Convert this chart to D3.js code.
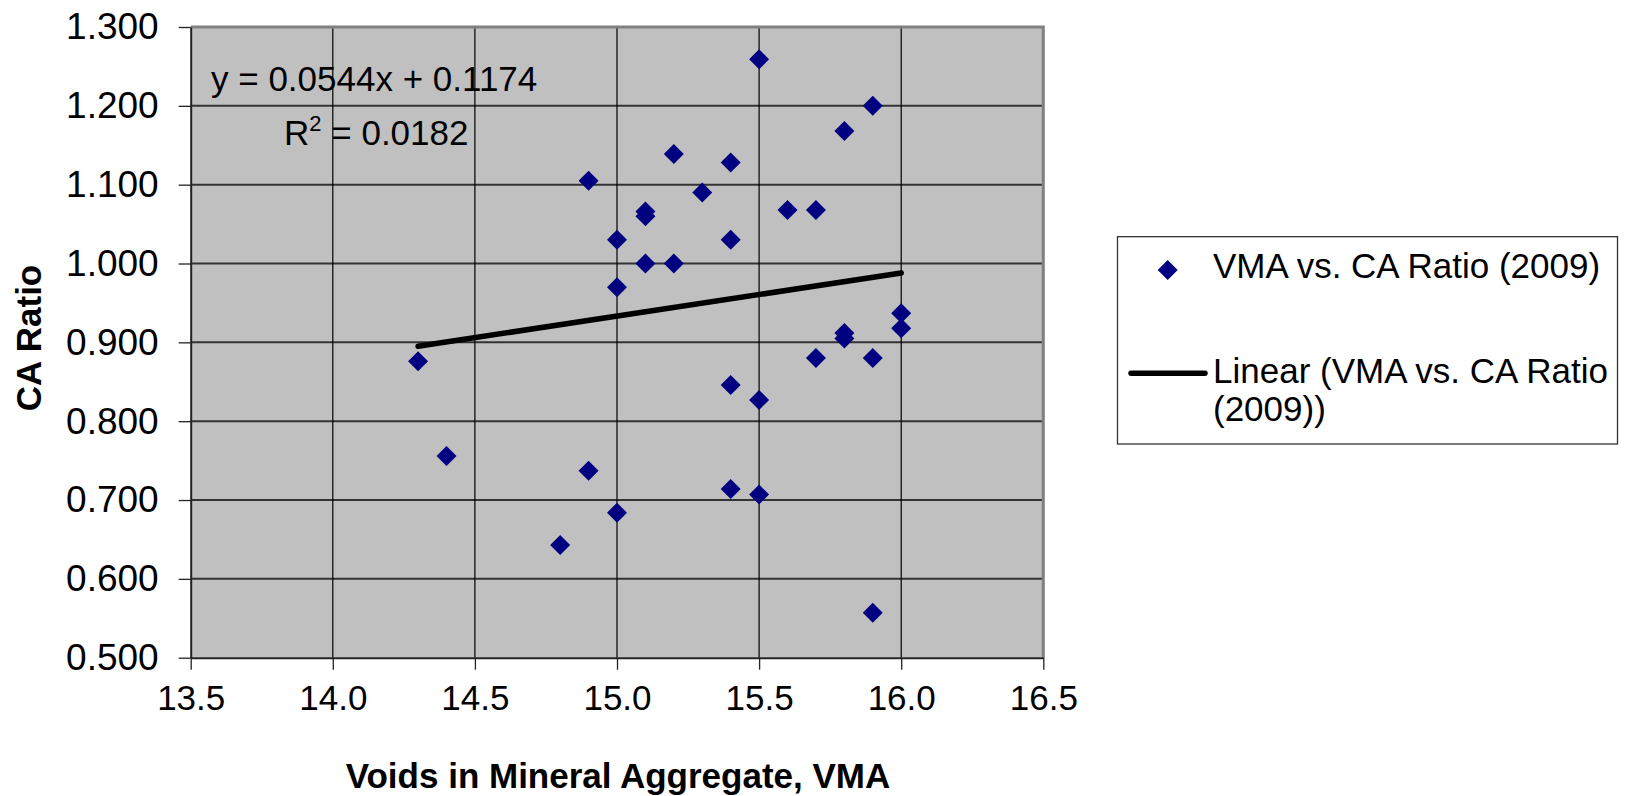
<!DOCTYPE html>
<html>
<head>
<meta charset="utf-8">
<script src="https://cdn.jsdelivr.net/npm/d3@7"></script>
<style>
  body { margin: 0; background: #fff; }
  text { font-family: "Liberation Sans", Arial, sans-serif; fill: #000; }
  .ticklabel { font-size: 35px; }
  .ylabel { font-size: 37px; }
  .eqtext { font-size: 35px; }
  .title { font-size: 35px; font-weight: bold; }
  .legendtext { font-size: 35px; }
</style>
</head>
<body>
<div id="chart"></div>
<script>
// VMA (x) and CA ratio (y) for each sample
var vma = [15.5, 15.9, 15.8, 15.2, 15.4, 15.3, 15.1, 15.1, 15.6, 15.7,
           15.0, 15.4, 15.1, 15.2, 15.0, 16.0, 16.0, 15.8, 15.8, 15.7,
           15.9, 15.4, 15.5, 14.9, 14.3, 14.4, 14.9, 15.0, 14.8, 15.4,
           15.5, 15.9];
var caRatio = [1.259, 1.200, 1.168, 1.139, 1.128, 1.090, 1.066, 1.060, 1.068, 1.068,
               1.030, 1.030, 1.000, 1.000, 0.970, 0.937, 0.918, 0.912, 0.905, 0.880,
               0.880, 0.846, 0.827, 1.105, 0.876, 0.756, 0.737, 0.684, 0.643, 0.714,
               0.707, 0.557];

// trendline end points
var trendX = [14.3, 16.0];
var trendY = [0.895, 0.988];

var xTicks = [13.5, 14.0, 14.5, 15.0, 15.5, 16.0, 16.5];
var yTicks = [0.5, 0.6, 0.7, 0.8, 0.9, 1.0, 1.1, 1.2, 1.3];

var equationText = "y = 0.0544x + 0.1174";
var r2Value = "0.0182";
var seriesName = "VMA vs. CA Ratio (2009)";
var trendName = ["Linear (VMA vs. CA Ratio", "(2009))"];

var width = 1625, height = 796;
var plot = {left: 190.7, top: 27, right: 1043.3, bottom: 657.7};

var svg = d3.select("#chart").append("svg")
    .attr("width", width)
    .attr("height", height);

var x = d3.scaleLinear().domain([13.5, 16.5]).range([plot.left, plot.right]);
var y = d3.scaleLinear().domain([0.5, 1.3]).range([plot.bottom, plot.top]);

//plot background
svg.append("rect")
    .attr("x", plot.left)
    .attr("y", plot.top)
    .attr("width", plot.right - plot.left)
    .attr("height", plot.bottom - plot.top)
    .attr("fill", "#c0c0c0");

//horizontal gridlines
svg.append("g").selectAll("line")
    .data(yTicks.slice(1, -1)).enter().append("line")
    .attr("x1", plot.left).attr("x2", plot.right)
    .attr("y1", function(d) { return y(d); })
    .attr("y2", function(d) { return y(d); })
    .attr("stroke", "#333")
    .attr("stroke-width", 2);

//vertical gridlines
svg.append("g").selectAll("line")
    .data(xTicks.slice(1, -1)).enter().append("line")
    .attr("x1", function(d) { return x(d); })
    .attr("x2", function(d) { return x(d); })
    .attr("y1", plot.top).attr("y2", plot.bottom)
    .attr("stroke", "#000")
    .attr("stroke-width", 1.2);

//gray frame on top and right
svg.append("path")
    .attr("d", "M" + plot.left + "," + plot.top + "H" + plot.right + "V" + plot.bottom)
    .attr("fill", "none")
    .attr("stroke", "#808080")
    .attr("stroke-width", 3);

//axes
var xAxis = d3.axisBottom(x).tickValues(xTicks).tickFormat(d3.format(".1f"))
    .tickSizeInner(12).tickSizeOuter(0).tickPadding(15);
var yAxis = d3.axisLeft(y).tickValues(yTicks).tickFormat(d3.format(".3f"))
    .tickSizeInner(12).tickSizeOuter(0).tickPadding(20);

var gx = svg.append("g")
    .attr("transform", "translate(0," + plot.bottom + ")")
    .call(xAxis);
var gy = svg.append("g")
    .attr("transform", "translate(" + plot.left + ",0)")
    .call(yAxis);

[gx, gy].forEach(function(g) {
    g.select(".domain").attr("stroke", "#222").attr("stroke-width", 2);
    g.selectAll(".tick line").attr("stroke", "#222").attr("stroke-width", 1.3);
    g.selectAll(".tick text")
        .attr("font-family", null)
        .attr("font-size", null)
        .attr("fill", "#000");
});
gx.selectAll(".tick text").attr("class", "ticklabel").attr("dy", "0.71em");
gy.selectAll(".tick text").attr("class", "ylabel");

//axis titles
svg.append("text")
    .attr("class", "title")
    .attr("x", 618)
    .attr("y", 788)
    .attr("text-anchor", "middle")
    .text("Voids in Mineral Aggregate, VMA");

svg.append("text")
    .attr("class", "title")
    .attr("transform", "translate(41,338) rotate(-90)")
    .attr("text-anchor", "middle")
    .text("CA Ratio");

//trendline
var line = d3.line()
    .x(function(d) { return x(d[0]); })
    .y(function(d) { return y(d[1]); });

svg.append("path")
    .datum(d3.zip(trendX, trendY))
    .attr("d", line)
    .attr("fill", "none")
    .attr("stroke", "#000")
    .attr("stroke-width", 5.5)
    .attr("stroke-linecap", "round");

//data points
var diamond = d3.symbol().type(d3.symbolSquare).size(200);

svg.append("g").selectAll("path")
    .data(d3.zip(vma, caRatio)).enter().append("path")
    .attr("d", diamond)
    .attr("transform", function(d) {
        return "translate(" + x(d[0]) + "," + y(d[1]) + ") rotate(45)";
    })
    .attr("fill", "#000080");

//equation labels
svg.append("text")
    .attr("class", "eqtext")
    .attr("x", 211)
    .attr("y", 90.7)
    .text(equationText);

var r2 = svg.append("text")
    .attr("class", "eqtext")
    .attr("x", 284)
    .attr("y", 145);
r2.append("tspan").text("R");
r2.append("tspan").attr("font-size", "22px").attr("dy", -14).text("2");
r2.append("tspan").attr("dy", 14).text(" = " + r2Value);

//legend
var legend = svg.append("g");

legend.append("rect")
    .attr("x", 1117.5)
    .attr("y", 236.7)
    .attr("width", 500)
    .attr("height", 207.3)
    .attr("fill", "#fff")
    .attr("stroke", "#333")
    .attr("stroke-width", 1.3);

legend.append("path")
    .attr("d", diamond)
    .attr("transform", "translate(1167.7,270) rotate(45)")
    .attr("fill", "#000080");

legend.append("text")
    .attr("class", "legendtext")
    .attr("x", 1213)
    .attr("y", 278.3)
    .text(seriesName);

legend.append("line")
    .attr("x1", 1131).attr("x2", 1205)
    .attr("y1", 373.3).attr("y2", 373.3)
    .attr("stroke", "#000")
    .attr("stroke-width", 5.5)
    .attr("stroke-linecap", "round");

legend.append("g").selectAll("text")
    .data(trendName).enter().append("text")
    .attr("class", "legendtext")
    .attr("x", 1213)
    .attr("y", function(d, i) { return 383.3 + i * 38; })
    .text(function(d) { return d; });
</script>
</body>
</html>
